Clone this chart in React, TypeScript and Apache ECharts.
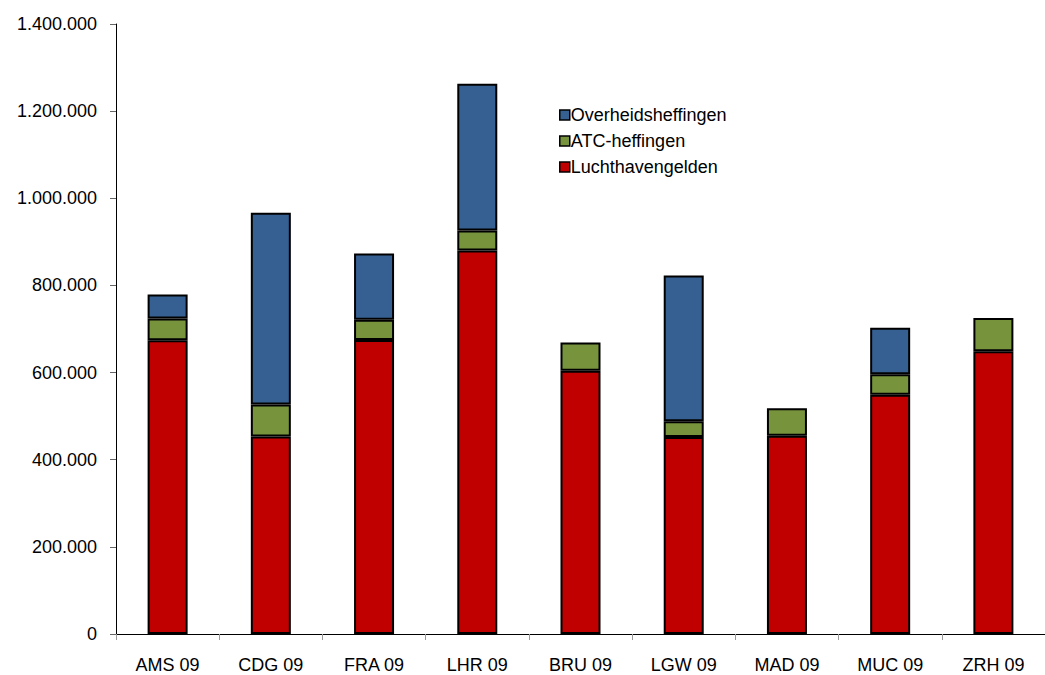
import React, { useEffect, useRef } from "react";
import * as echarts from "echarts";

const categories = ["AMS 09", "CDG 09", "FRA 09", "LHR 09", "BRU 09", "LGW 09", "MAD 09", "MUC 09", "ZRH 09"];
const luchthavengelden = [674000, 453000, 675000, 880000, 604000, 452000, 455000, 549000, 649000];
const atcHeffingen = [50000, 74000, 46000, 46000, 65000, 36000, 63000, 47000, 76000];
const overheidsheffingen: (number | null)[] = [55000, 440000, 152000, 337000, null, 335000, null, 107000, null];
const yTicks = { min: 0, max: 1400000, interval: 200000 };

const FONT = "'Liberation Sans', Arial, sans-serif";

function fmt(v: number): string {
  return String(Math.round(v)).replace(/\B(?=(\d{3})+(?!\d))/g, ".");
}

export default function App() {
  const ref = useRef<HTMLDivElement>(null);
  useEffect(() => {
    if (!ref.current) return;
    const chart = echarts.init(ref.current, undefined, { renderer: "svg" });
    const border = { borderColor: "#000", borderWidth: 2 };
    chart.setOption({
      animation: false,
      backgroundColor: "#fff",
      grid: { left: 116, right: 0, top: 24, bottom: 41, containLabel: false },
      legend: {
        orient: "vertical",
        left: 554,
        top: 101,
        itemWidth: 10,
        itemHeight: 10,
        itemGap: 8,
        icon: "rect",
        data: ["Overheidsheffingen", "ATC-heffingen", "Luchthavengelden"],
        textStyle: { fontFamily: FONT, fontSize: 18, color: "#000", padding: [0, 0, 0, -4], lineHeight: 18 },
        itemStyle: { borderColor: "#000", borderWidth: 1.5 },
      },
      xAxis: {
        type: "category",
        data: categories,
        axisLine: { lineStyle: { color: "#000", width: 1 } },
        axisTick: { show: true, alignWithLabel: false, length: 6, lineStyle: { color: "#999" } },
        axisLabel: { fontFamily: FONT, fontSize: 18, color: "#000", margin: 22 },
      },
      yAxis: {
        type: "value",
        min: yTicks.min,
        max: yTicks.max,
        interval: yTicks.interval,
        axisLine: { show: true, lineStyle: { color: "#000", width: 1 } },
        axisTick: { show: true, length: 6, lineStyle: { color: "#666" } },
        splitLine: { show: false },
        axisLabel: { fontFamily: FONT, fontSize: 18, color: "#000", margin: 19, formatter: (v: number) => fmt(v) },
      },
      series: [
        {
          name: "Luchthavengelden",
          type: "bar",
          stack: "total",
          barWidth: 40,
          data: luchthavengelden,
          itemStyle: { color: "#C00000", ...border },
        },
        {
          name: "ATC-heffingen",
          type: "bar",
          stack: "total",
          barWidth: 40,
          data: atcHeffingen,
          itemStyle: { color: "#77933C", ...border },
        },
        {
          name: "Overheidsheffingen",
          type: "bar",
          stack: "total",
          barWidth: 40,
          data: overheidsheffingen,
          itemStyle: { color: "#366092", ...border },
        },
      ],
    });
    return () => chart.dispose();
  }, []);
  return <div ref={ref} style={{ position: "fixed", left: 0, top: 0, width: 1045, height: 675 }} />;
}
